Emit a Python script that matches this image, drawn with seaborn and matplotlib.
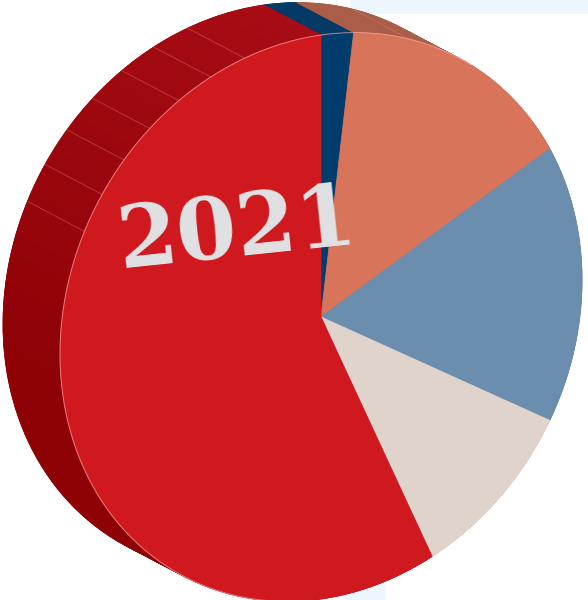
import numpy as np
import matplotlib
matplotlib.use("Agg")
import matplotlib.pyplot as plt
import matplotlib.colors as mcolors
from matplotlib.patches import Polygon, Rectangle
from matplotlib.transforms import Affine2D
import seaborn as sns

# Shares of the 2021 breakdown, clockwise from the top
segments = ["Segment A", "Segment B", "Segment C", "Segment D", "Segment E"]
shares = [2, 15, 16, 10, 57]
face_colors = ["#003c6c", "#d8745a", "#6b8eae", "#e0d3cc", "#d0181f"]
side_colors = ["#053a66", "#ab5e47", "#4f6f8c", "#b8a8a0", "#a00a12"]
year_label = "2021"

sns.set_theme(style="white")

fig = plt.figure(figsize=(5.88, 6.0), dpi=100)
ax = fig.add_axes([0, 0, 1, 1])

# tilted disc: the unit circle mapped onto the page (pixel units, y up)
disc = Affine2D.from_values(261, 37, 0, 282, 321, 283)
tr = disc + ax.transData
depth = np.array([-0.2184, 0.135])  # extrusion vector of the disc, unit coords


def rim(deg):
    r = np.radians(deg)
    return np.column_stack([np.cos(r), np.sin(r)])


# pale backdrop pieces
ax.add_patch(Rectangle((350, 586), 238, 14, color="#eef6fd", lw=0, zorder=0))
ax.add_patch(Rectangle((345, 0), 40, 16, color="#eef6fd", lw=0, zorder=0))

# back face of the disc
back, _ = ax.pie(shares, colors=side_colors, startangle=90, counterclock=False,
                 center=tuple(depth), radius=1, wedgeprops=dict(linewidth=0.6))
for w, c in zip(back, side_colors):
    w.set_edgecolor(c)
    w.set_transform(tr)
    w.set_zorder(1)

# side wall, one strip per slice, shaded from top to left
top_side = np.array(mcolors.to_rgb("#a80c15"))
low_side = np.array(mcolors.to_rgb("#8e0206"))
for i, w in enumerate(back):
    t1, t2 = w.theta1, w.theta2
    n = max(2, int(np.ceil((t2 - t1) / 2.0)))
    angs = np.linspace(t1, t2, n + 1)
    for a, b in zip(angs[:-1], angs[1:]):
        pa, pb = rim(a)[0], rim(b)[0]
        quad = np.array([pa, pb, pb + depth, pa + depth])
        if i == len(shares) - 1:
            m = (a + b) / 2 % 360
            s = np.clip((m - 95) / 90, 0, 1)
            col = top_side * (1 - s) + low_side * s
        else:
            col = side_colors[i]
        ax.add_patch(Polygon(quad, closed=True, facecolor=col, edgecolor=col,
                             lw=0.5, transform=tr, zorder=2))

# faint facet seams on the upper part of the side wall
for a in list(np.arange(107, 160, 8)) + [70]:
    p = rim(a)[0]
    seg = np.array([p, p + depth])
    ax.plot(seg[:, 0], seg[:, 1], color="#e07a7c", lw=0.6, alpha=0.45,
            transform=tr, zorder=3)

# front face
front, _ = ax.pie(shares, colors=face_colors, startangle=90, counterclock=False,
                  radius=1, wedgeprops=dict(linewidth=0.6))
for w, c in zip(front, face_colors):
    w.set_edgecolor(c)
    w.set_transform(tr)
    w.set_zorder(4)

# light rim edge where the face meets the wall
edge = rim(np.linspace(55, 262, 200))
ax.plot(edge[:, 0], edge[:, 1], color="#f4a9a9", lw=0.7, alpha=0.7,
        transform=tr, zorder=5)

ax.text(237, 368, year_label, rotation=6, rotation_mode="anchor",
        ha="center", va="center", fontsize=62, fontweight="bold",
        family="DejaVu Serif", color="#e1e2e4", zorder=6)

ax.set_aspect("auto")
ax.set_xlim(0, 588)
ax.set_ylim(0, 600)
ax.axis("off")

fig.savefig("out.png", dpi=100, facecolor="white")
